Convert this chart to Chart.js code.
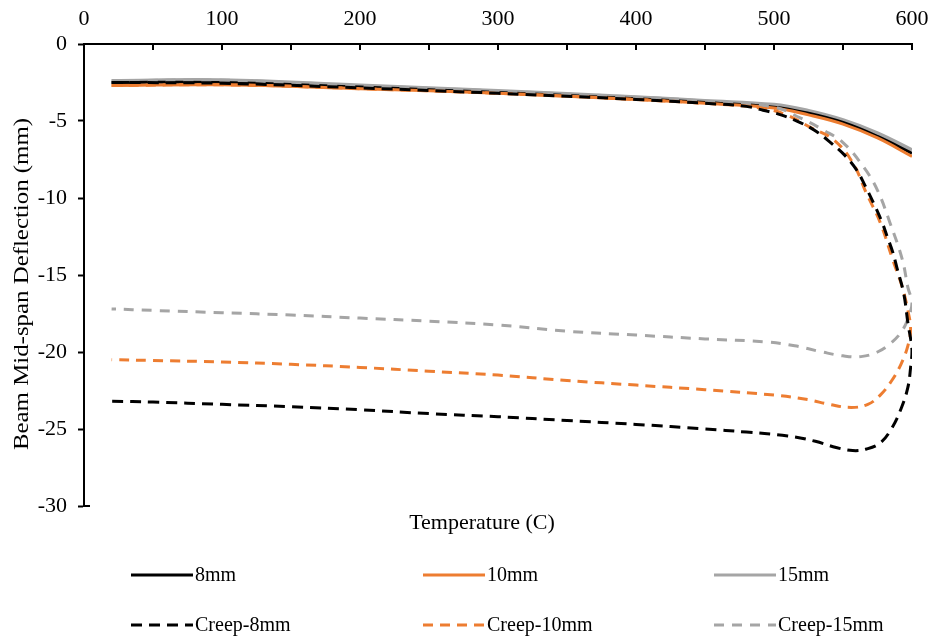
<!DOCTYPE html>
<html>
<head>
<meta charset="utf-8">
<script src="https://cdn.jsdelivr.net/npm/chart.js@4/dist/chart.umd.min.js"></script>
<style>
  html, body { margin: 0; padding: 0; background: #fff; }
  #wrap { width: 932px; height: 642px; }
</style>
</head>
<body>
<div id="wrap"><canvas id="deflChart" width="932" height="642"></canvas></div>
<script>
// Temperature (C) and mid-span deflection (mm)
const tempSolid = [20, 100, 200, 300, 400, 450, 500, 525, 550, 575, 600];
const defl8 = [-2.5, -2.5, -2.8, -3.15, -3.55, -3.8, -4.1, -4.5, -5.1, -6.0, -7.1];
const defl10 = [-2.7, -2.65, -2.9, -3.2, -3.6, -3.85, -4.15, -4.6, -5.2, -6.1, -7.3];
const defl15 = [-2.4, -2.35, -2.7, -3.05, -3.45, -3.7, -3.95, -4.35, -4.95, -5.8, -6.9];

// creep runs: heating branch, drop near 600 C, then back to 20 C
const tempCreep8 = [20, 100, 200, 300, 400, 450, 480, 492, 505, 519, 531, 541, 551, 560, 566, 572, 578, 582, 586, 589, 594, 597, 600,
  599, 597, 592, 585, 577, 567, 557, 545, 530, 510, 480, 450, 400, 350, 300, 250, 200, 150, 100, 50, 20];
const deflCreep8 = [-2.5, -2.55, -2.85, -3.2, -3.6, -3.85, -4.05, -4.3, -4.6, -5.1, -5.7, -6.4, -7.2, -8.2, -9.2, -10.3, -11.5, -12.5, -13.5, -14.5, -16.2, -18.1, -19.9,
  -21.0, -22.3, -23.7, -25.0, -25.9, -26.3, -26.4, -26.2, -25.8, -25.45, -25.2, -25.0, -24.7, -24.45, -24.2, -24.0, -23.75, -23.55, -23.4, -23.25, -23.2];

const tempCreep10 = [20, 100, 200, 300, 400, 450, 490, 509, 526, 543, 557, 567, 577, 586, 593, 597, 599,
  597, 592, 585, 577, 568, 556, 540, 525, 500, 450, 400, 350, 300, 250, 200, 150, 100, 50, 20];
const deflCreep10 = [-2.7, -2.65, -2.9, -3.2, -3.6, -3.85, -4.15, -4.6, -5.4, -6.2, -7.7, -9.7, -11.6, -14.0, -15.8, -17.3, -18.5,
  -19.6, -20.8, -21.9, -22.8, -23.4, -23.6, -23.4, -23.1, -22.8, -22.45, -22.15, -21.85, -21.5, -21.25, -21.0, -20.8, -20.65, -20.55, -20.5];

const tempCreep15 = [20, 100, 200, 300, 400, 450, 500, 519, 536, 550, 565, 575, 584, 593, 597, 600,
  598, 593, 585, 575, 563, 550, 535, 515, 495, 450, 400, 350, 300, 250, 200, 150, 100, 50, 20];
const deflCreep15 = [-2.4, -2.35, -2.7, -3.05, -3.45, -3.7, -4.1, -4.8, -5.6, -6.4, -8.0, -9.5, -11.6, -14.0, -15.8, -16.8,
  -17.6, -18.6, -19.4, -20.0, -20.3, -20.25, -20.0, -19.6, -19.35, -19.15, -18.9, -18.65, -18.25, -18.0, -17.8, -17.6, -17.45, -17.3, -17.2];

const xTicks = [0, 100, 200, 300, 400, 500, 600];
const yTicks = [0, -5, -10, -15, -20, -25, -30];

const serif = '"Liberation Serif", "Times New Roman", serif';

function pts(xs, ys) {
  return xs.map((x, i) => ({ x: x, y: ys[i] }));
}

function series(label, xs, ys, color, width, dash, order) {
  return {
    label: label,
    data: pts(xs, ys),
    borderColor: color,
    backgroundColor: color,
    borderWidth: width,
    borderDash: dash,
    showLine: true,
    pointRadius: 0,
    tension: 0.4,
    fill: false,
    order: order
  };
}

// draws x-axis inward ticks, x title, y title and the 3x2 legend
const extras = {
  id: 'extras',
  afterDraw(chart) {
    const ctx = chart.ctx;
    const xs = chart.scales.x;
    const area = chart.chartArea;
    ctx.save();
    ctx.strokeStyle = '#000';
    ctx.lineWidth = 2;
    for (let v = 50; v <= 600; v += 50) {
      const px = Math.round(xs.getPixelForValue(v));
      ctx.beginPath();
      ctx.moveTo(px, area.top);
      ctx.lineTo(px, area.top + 6);
      ctx.stroke();
    }
    // small end tick at the bottom of the y axis
    ctx.beginPath();
    ctx.moveTo(area.left, area.bottom);
    ctx.lineTo(area.left + 6, area.bottom);
    ctx.stroke();

    ctx.fillStyle = '#000';
    ctx.font = '22px ' + serif;
    ctx.textAlign = 'center';
    ctx.textBaseline = 'middle';
    ctx.fillText('Temperature (C)', 482, 523);

    ctx.translate(22, 284);
    ctx.rotate(-Math.PI / 2);
    ctx.scale(1.13, 1);
    ctx.fillText('Beam Mid-span Deflection (mm)', 0, 0);
    ctx.setTransform(1, 0, 0, 1, 0, 0);

    const colX = [131, 423, 714];
    const rowY = [575, 625];
    ctx.font = '20px ' + serif;
    ctx.textAlign = 'left';
    chart.data.datasets.forEach((ds, i) => {
      const x = colX[i % 3];
      const y = rowY[Math.floor(i / 3)];
      ctx.strokeStyle = ds.borderColor;
      ctx.lineWidth = 3;
      ctx.setLineDash(ds.borderDash);
      ctx.beginPath();
      ctx.moveTo(x, y);
      ctx.lineTo(x + 62, y);
      ctx.stroke();
      ctx.setLineDash([]);
      ctx.fillStyle = '#000';
      ctx.fillText(ds.label, x + 64, y + 1);
    });
    ctx.restore();
  }
};

const ctx = document.getElementById('deflChart').getContext('2d');
const chart = new Chart(ctx, {
  type: 'scatter',
  data: {
    datasets: [
      series('8mm', tempSolid, defl8, '#000000', 3, [], 3),
      series('10mm', tempSolid, defl10, '#ED7D31', 3, [], 2),
      series('15mm', tempSolid, defl15, '#A5A5A5', 4, [], 4),
      series('Creep-8mm', tempCreep8, deflCreep8, '#000000', 3, [11, 7], 0),
      series('Creep-10mm', tempCreep10, deflCreep10, '#ED7D31', 3, [10, 7], 1),
      series('Creep-15mm', tempCreep15, deflCreep15, '#A5A5A5', 3, [10, 8], 1)
    ]
  },
  options: {
    responsive: false,
    animation: false,
    layout: { padding: { left: 0, right: 20, top: 0, bottom: 136 } },
    plugins: { legend: { display: false }, tooltip: { enabled: false } },
    scales: {
      x: {
        type: 'linear',
        position: 'top',
        min: 0,
        max: 600,
        afterBuildTicks: (s) => { s.ticks = xTicks.map(v => ({ value: v })); },
        afterFit: (s) => { s.height = 44; s.paddingRight = 0; s.paddingLeft = 0; },
        ticks: { color: '#000', font: { family: serif, size: 22 }, padding: 12, maxRotation: 0 },
        grid: { display: true, drawOnChartArea: false, drawTicks: false },
        border: { display: true, color: '#000', width: 2 }
      },
      y: {
        type: 'linear',
        position: 'left',
        min: -30,
        max: 0,
        afterBuildTicks: (s) => { s.ticks = yTicks.map(v => ({ value: v })); },
        afterFit: (s) => { s.width = 84; },
        ticks: { color: '#000', font: { family: serif, size: 22 }, padding: 11 },
        grid: { display: true, drawOnChartArea: false, drawTicks: true, tickLength: 6, color: '#000', tickWidth: 2 },
        border: { display: true, color: '#000', width: 2 }
      }
    }
  },
  plugins: [extras]
});
</script>
</body>
</html>
